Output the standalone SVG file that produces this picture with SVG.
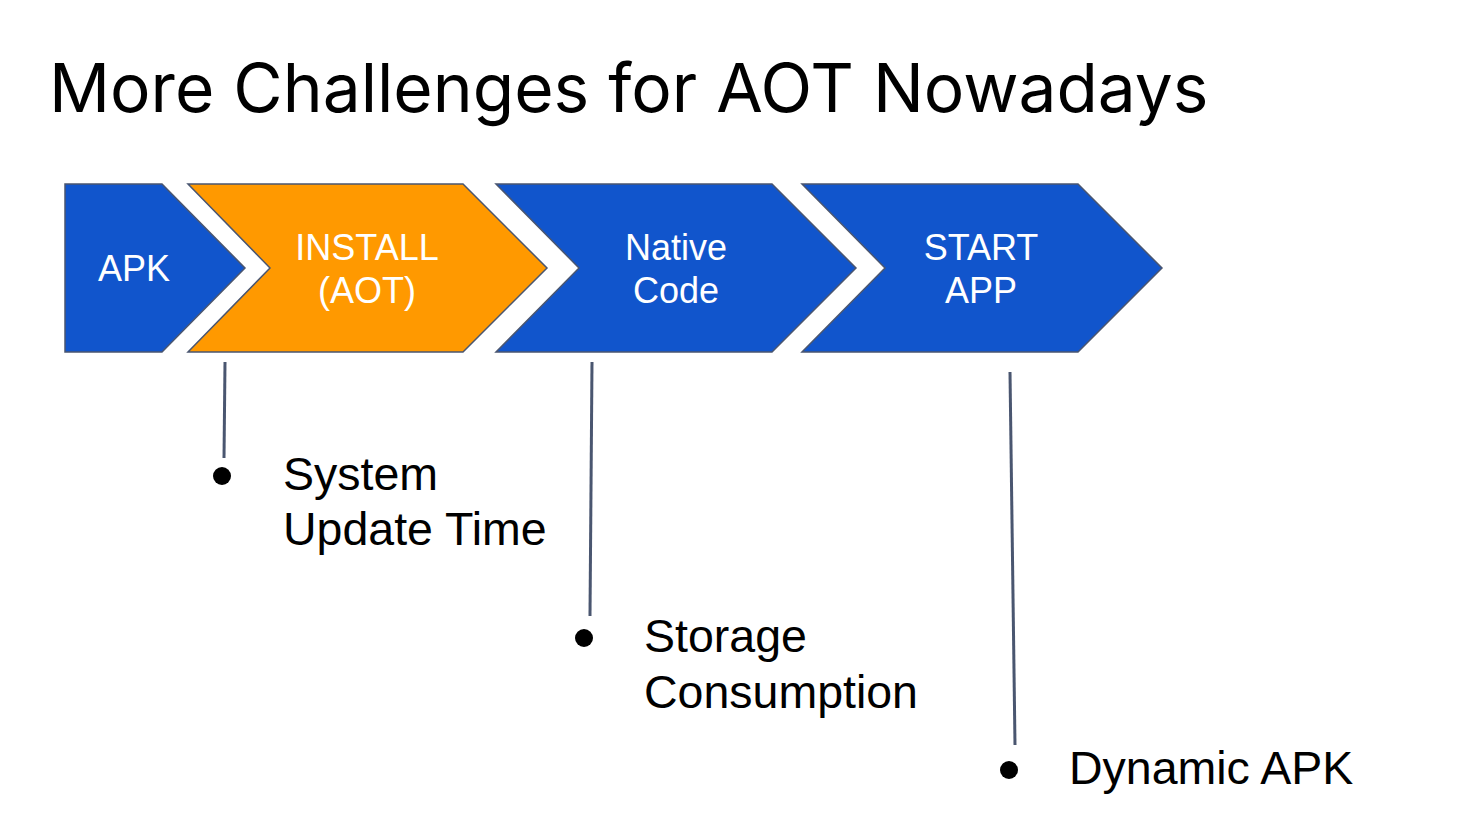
<svg xmlns="http://www.w3.org/2000/svg" width="1471" height="840" viewBox="0 0 1471 840">
<style>
.chev{stroke:#4a5670;stroke-width:1.5;stroke-linejoin:miter}
.blue{fill:#1155cc}
.orange{fill:#ff9900}
.lbl{font-family:"Liberation Sans",Arial,sans-serif;font-size:36px;fill:#ffffff;text-anchor:middle}
.conn{stroke:#4a5670;stroke-width:3;fill:none}
.bul{font-family:"Liberation Sans",Arial,sans-serif;font-size:46.5px;fill:#000000}
.title{font-family:Inter,"Liberation Sans",sans-serif;font-size:67.6px;fill:#000000}
</style>
<rect width="1471" height="840" fill="#ffffff"/>
<text class="title" x="49" y="112">More Challenges for AOT Nowadays</text>
<g id="apk">
<polygon class="chev blue" points="65,184 162,184 245,268 162,352 65,352"/>
<text class="lbl" x="134" y="281">APK</text>
</g>
<g id="install">
<polygon class="chev orange" points="188,184 463,184 547,268 463,352 188,352 270,268"/>
<text class="lbl" x="367" y="260">INSTALL</text>
<text class="lbl" x="367" y="303">(AOT)</text>
</g>
<g id="native">
<polygon class="chev blue" points="496,184 772,184 856,268 772,352 496,352 579,268"/>
<text class="lbl" x="676" y="260">Native</text>
<text class="lbl" x="676" y="303">Code</text>
</g>
<g id="start">
<polygon class="chev blue" points="802,184 1078,184 1162,268 1078,352 802,352 885,268"/>
<text class="lbl" x="981" y="260">START</text>
<text class="lbl" x="981" y="303">APP</text>
</g>
<g id="connectors">
<line class="conn" x1="225" y1="362" x2="224" y2="458"/>
<line class="conn" x1="592" y1="362" x2="590" y2="616"/>
<line class="conn" x1="1010" y1="372" x2="1015" y2="745"/>
</g>
<g id="b1">
<circle cx="222" cy="476" r="9" fill="#000"/>
<text class="bul" x="283" y="490">System</text>
<text class="bul" x="283" y="545">Update Time</text>
</g>
<g id="b2">
<circle cx="584" cy="638" r="9" fill="#000"/>
<text class="bul" x="644" y="652">Storage</text>
<text class="bul" x="644" y="708">Consumption</text>
</g>
<g id="b3">
<circle cx="1009" cy="770" r="9" fill="#000"/>
<text class="bul" x="1069" y="784">Dynamic APK</text>
</g>
</svg>
